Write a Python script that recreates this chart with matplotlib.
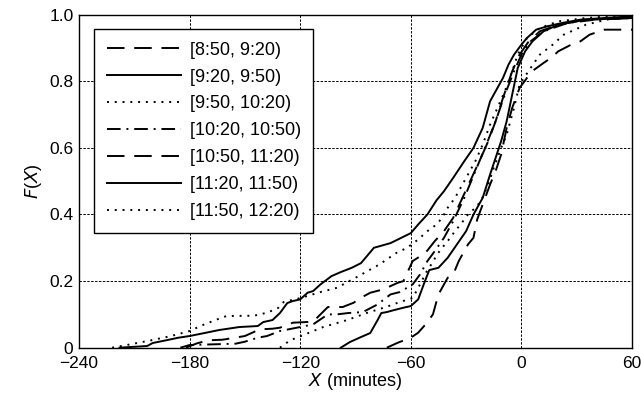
import matplotlib
matplotlib.use("Agg")
import matplotlib.pyplot as plt

plt.rcParams['font.family'] = ['Liberation Sans', 'DejaVu Sans']

labels = ["[8:50, 9:20)", "[9:20, 9:50)", "[9:50, 10:20)", "[10:20, 10:50)",
          "[10:50, 11:20)", "[11:20, 11:50)", "[11:50, 12:20)"]

# [8:50, 9:20) dashed (rightmost)
x_0850 = [-73, -67, -60, -56, -52, -48, -45, -40, -37, -34, -32, -29, -26, -24, -21, -17, -14, -11, -8, -5, -1, 3, 6.5, 12, 16, 20, 27, 32, 37, 45, 60]
y_0850 = [0, 0.015, 0.03, 0.045, 0.07, 0.10, 0.16, 0.21, 0.22, 0.26, 0.28, 0.31, 0.33, 0.385, 0.43, 0.49, 0.53, 0.58, 0.66, 0.72, 0.78, 0.81, 0.833, 0.855, 0.87, 0.89, 0.91, 0.92, 0.94, 0.955, 0.955]

# [9:20, 9:50) solid (right)
x_0920 = [-98, -93, -87, -82, -78, -76, -73, -69, -64, -60, -56, -53, -50, -45, -40, -35, -30, -26, -21, -17, -14, -11, -8, -5, -2, 2, 6, 12, 20, 35, 60]
y_0920 = [0, 0.017, 0.032, 0.044, 0.083, 0.104, 0.107, 0.113, 0.12, 0.125, 0.145, 0.19, 0.233, 0.24, 0.27, 0.31, 0.35, 0.40, 0.45, 0.52, 0.57, 0.62, 0.68, 0.76, 0.84, 0.89, 0.92, 0.95, 0.97, 0.985, 0.99]

# [9:50, 10:20) dotted (right)
x_0950 = [-131, -125.5, -116, -107.5, -94.5, -84, -73, -66, -59, -55, -51, -48, -46, -43, -40, -36, -33, -29, -25, -22, -18, -15, -11, -8, -4, -1, 5, 10, 17, 23, 35, 50, 60]
y_0950 = [0, 0.022, 0.043, 0.062, 0.083, 0.104, 0.123, 0.137, 0.149, 0.19, 0.233, 0.257, 0.278, 0.30, 0.32, 0.35, 0.37, 0.40, 0.42, 0.44, 0.49, 0.54, 0.60, 0.64, 0.72, 0.79, 0.84, 0.88, 0.91, 0.94, 0.97, 0.99, 0.995]

# [10:20, 10:50) dash-dot
x_1020 = [-185, -180, -155, -150, -143, -138, -131, -120, -113, -105, -100, -94, -86, -78, -71, -66, -62, -59, -55, -51, -47, -42, -37, -31, -25, -19, -14, -9, -4, 0, 5, 12, 25, 40, 60]
y_1020 = [0, 0.008, 0.012, 0.018, 0.03, 0.035, 0.05, 0.062, 0.07, 0.1, 0.1, 0.104, 0.107, 0.13, 0.16, 0.167, 0.18, 0.19, 0.22, 0.26, 0.29, 0.33, 0.38, 0.45, 0.53, 0.61, 0.68, 0.76, 0.83, 0.88, 0.92, 0.95, 0.975, 0.985, 0.99]

# [10:50, 11:20) dashed (upper)
x_1050 = [-182, -176, -170, -162, -150, -142, -135, -131, -124, -113, -109, -105, -97, -91, -87, -82, -75, -67, -64, -59, -52, -47, -42, -37, -32, -27, -22, -18, -14, -10, -5, -1, 4, 10, 20, 35, 60]
y_1050 = [0, 0.013, 0.022, 0.024, 0.035, 0.055, 0.057, 0.06, 0.075, 0.078, 0.1, 0.122, 0.122, 0.135, 0.15, 0.165, 0.175, 0.195, 0.2, 0.26, 0.285, 0.32, 0.35, 0.39, 0.45, 0.51, 0.57, 0.62, 0.68, 0.75, 0.83, 0.88, 0.92, 0.95, 0.97, 0.985, 0.99]

# [11:20, 11:50) solid (left)
x_1120 = [-218, -203, -200, -192, -186, -180, -171, -164, -153, -143, -140, -135, -131, -127, -124, -120, -116, -113, -109, -103, -98, -92, -87, -80, -71, -60, -56, -51, -46, -42, -37, -31, -26, -21, -17, -13, -10, -7, -4, 0, 3, 8, 14, 22, 32, 45, 60]
y_1120 = [0, 0.005, 0.014, 0.023, 0.03, 0.035, 0.045, 0.053, 0.062, 0.065, 0.077, 0.083, 0.104, 0.134, 0.14, 0.145, 0.165, 0.17, 0.19, 0.215, 0.227, 0.24, 0.254, 0.30, 0.314, 0.344, 0.37, 0.40, 0.443, 0.47, 0.51, 0.56, 0.60, 0.66, 0.74, 0.78, 0.81, 0.85, 0.88, 0.91, 0.93, 0.955, 0.965, 0.975, 0.985, 0.99, 0.995]

# [11:50, 12:20) dotted (left)
x_1150 = [-222, -214, -201, -190, -180, -172, -165, -160, -145, -138, -132, -129, -120, -109, -100, -89, -77, -68, -62, -56, -51, -46, -43, -40, -36, -33, -29, -25, -21, -17, -13, -9, -5, -2, 3, 10, 20, 35, 60]
y_1150 = [0, 0.008, 0.022, 0.035, 0.05, 0.07, 0.085, 0.095, 0.096, 0.105, 0.119, 0.137, 0.149, 0.167, 0.18, 0.213, 0.25, 0.284, 0.30, 0.325, 0.35, 0.37, 0.39, 0.42, 0.45, 0.48, 0.52, 0.56, 0.61, 0.67, 0.72, 0.77, 0.83, 0.88, 0.93, 0.96, 0.98, 0.99, 1.0]

x_ticks = [-240, -180, -120, -60, 0, 60]
y_ticks = [0, 0.2, 0.4, 0.6, 0.8, 1.0]
y_ticklabels = ["0", "0.2", "0.4", "0.6", "0.8", "1.0"]

series = [(x_0850, y_0850), (x_0920, y_0920), (x_0950, y_0950), (x_1020, y_1020),
          (x_1050, y_1050), (x_1120, y_1120), (x_1150, y_1150)]
dashed = (0, (9, 5))
dotted = (0, (1, 3))
dashdot = (0, (7, 3, 1, 3))
styles = [dashed, '-', dotted, dashdot, dashed, '-', dotted]

fig = plt.figure(figsize=(6.41, 4.0), dpi=100)
ax = fig.add_axes([0.1232, 0.1308, 0.8628, 0.8325])

for (xs, ys), ls, lab in zip(series, styles, labels):
    ax.plot(xs, ys, color='black', lw=1.4, linestyle=ls, label=lab)

ax.set_xlim(-240, 60)
ax.set_ylim(0, 1.0)
ax.set_xticks(x_ticks)
ax.set_xticklabels(["\u2212240", "\u2212180", "\u2212120", "\u221260", "0", "60"])
ax.set_yticks(y_ticks)
ax.set_yticklabels(y_ticklabels)
ax.tick_params(axis='x', direction='in', length=0, labelsize=12.5, pad=6, colors='black')
ax.tick_params(axis='y', direction='in', length=0, labelsize=12.5, pad=4, colors='black')
ax.grid(True, color='black', linestyle=(0, (2.5, 1.5)), linewidth=0.7)
for s in ax.spines.values():
    s.set_linewidth(1.0)
    s.set_color('black')

ax.set_xlabel(r"$\it{X}$ (minutes)", fontsize=13, labelpad=0)
ax.set_ylabel(r"$\it{F}$($\it{X}$)", fontsize=13, labelpad=4)

leg = ax.legend(loc='upper left', bbox_to_anchor=(0.027, 0.957), fontsize=13,
                handlelength=4.1, handletextpad=0.5, labelspacing=0.55,
                borderpad=0.7, fancybox=False, edgecolor='black', framealpha=1,
                borderaxespad=0)
leg.get_frame().set_linewidth(1.0)

fig.savefig("out.png", dpi=100)
